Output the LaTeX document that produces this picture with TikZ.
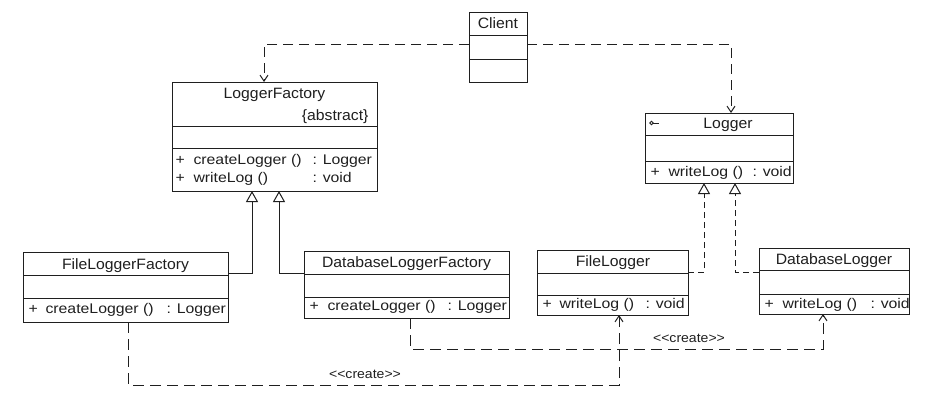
\documentclass[tikz,border=0pt]{standalone}
\usepackage{fontspec}
\setmainfont{Liberation Sans}
\newfontfamily\namefont[FakeStretch=1.05]{Liberation Sans}
\newfontfamily\opfont[FakeStretch=1.13]{Liberation Sans}
\newfontfamily\lblfont[FakeStretch=1.08]{Liberation Sans}
\usetikzlibrary{arrows.meta,fit,calc}
\tikzset{
  classbox/.style={draw, inner sep=0pt, outer sep=0pt},
  divider/.style={},
  cname/.style={font=\namefont\fontsize{15}{18}\selectfont, anchor=base, inner sep=0pt},
  opt/.style={font=\opfont\fontsize{14}{17}\selectfont, anchor=base west, inner sep=0pt},
  lbl/.style={font=\lblfont\fontsize{13}{15}\selectfont, inner sep=0pt},
  dep/.style={dash pattern=on 10pt off 6pt, -{Straight Barb[length=6pt,width=8pt]}},
  crt/.style={dash pattern=on 11pt off 6pt, -{Straight Barb[length=6pt,width=8pt]}},
  inh/.style={-{Triangle[open,length=11pt,width=12pt]}},
  realize/.style={dash pattern=on 6pt off 4pt, -{Triangle[open,length=11pt,width=12pt]}},
}
\newcommand\umlclass[7]{%
  \node[classbox, fit={(#2,#3) (#4,#5)}] (#1) {};
  \draw[divider] (#1.west |- 0,#6) -- (#1.east |- 0,#6);
  \draw[divider] (#1.west |- 0,#7) -- (#1.east |- 0,#7);
}
\begin{document}
\begin{tikzpicture}[x=1pt,y=-1pt,line width=1pt,color={black!88}]
\fill[white] (0,0) rectangle (951,402);
\useasboundingbox (0,0) rectangle (951,402);

% classes
\umlclass{client}{469}{12}{527}{82}{35}{59}
\umlclass{lf}{172}{82}{377}{191}{126}{148}
\umlclass{logger}{645}{113}{793}{183}{135}{161}
\umlclass{flf}{23}{252}{228}{322}{275}{298}
\umlclass{dlf}{304}{251}{509}{318}{274}{297}
\umlclass{fl}{537}{250}{688}{315}{273}{295}
\umlclass{dbl}{759}{248}{909}{314}{270}{294}

% names
\node[cname] (tclient) at (498,28.5) {Client};
\node[cname] (tlf) at (274.5,98) {LoggerFactory};
\node[cname, anchor=base east] (tabs) at (369,120) {\{abstract\}};
\node[cname] (tlogger) at (728,128) {Logger};
\node[cname] (tflf) at (125.5,269.5) {FileLoggerFactory};
\node[cname] (tdlf) at (406.5,267.5) {DatabaseLoggerFactory};
\node[cname] (tfl) at (613,266) {FileLogger};
\node[cname] (tdbl) at (834,264) {DatabaseLogger};

% logger icon
\draw[line width=0.8pt] (651.5,123) circle[radius=1.7pt];
\draw[line width=0.8pt] (653.2,123) -- (659,123);

% operations: LoggerFactory
\node[opt] (p1) at (175,164) {+};
\node[opt] (m1) at (193,164) {createLogger ()};
\node[opt] (r1) at (312,164) {: Logger};
\node[opt] (p2) at (175,182.5) {+};
\node[opt] (m2) at (193,182.5) {writeLog ()};
\node[opt] (r2) at (312,182.5) {: void};
% Logger
\node[opt] (p3) at (650,176) {+};
\node[opt] (m3) at (668,176) {writeLog ()};
\node[opt] (r3) at (752,176) {: void};
% FileLoggerFactory
\node[opt] (p4) at (28,313) {+};
\node[opt] (m4) at (45,313) {createLogger ()};
\node[opt] (r4) at (166,313) {: Logger};
% DatabaseLoggerFactory
\node[opt] (p5) at (309,310) {+};
\node[opt] (m5) at (327,310) {createLogger ()};
\node[opt] (r5) at (447,310) {: Logger};
% FileLogger
\node[opt] (p6) at (542,308.5) {+};
\node[opt] (m6) at (559,308.5) {writeLog ()};
\node[opt] (r6) at (645,308.5) {: void};
% DatabaseLogger
\node[opt] (p7) at (764,308) {+};
\node[opt] (m7) at (782,308) {writeLog ()};
\node[opt] (r7) at (870,308) {: void};

% dependencies from client
\draw[dep] (client.west |- 0,44) -| ($(lf.north)+(-10.5,0)$);
\draw[dep] (client.east |- 0,44) -| ($(logger.north)+(12,0)$);

% generalization
\draw[inh] (flf.east |- 0,273) -| ($(lf.south)+(-22.5,0)$);
\draw[inh] (dlf.west |- 0,273) -| ($(lf.south)+(4.5,0)$);

% realization
\draw[realize] (fl.east |- 0,272) -| ($(logger.south)+(-15,0)$);
\draw[realize] (dbl.west |- 0,272) -| ($(logger.south)+(16,0)$);

% create
\coordinate (k1) at (619,385);
\coordinate (k2) at (823,349);
\draw[crt] (flf.south -| 128,0) |- (k1) -- (fl.south -| k1);
\draw[crt] (dlf.south -| 410,0) |- (k2) -- (dbl.south -| k2);
\node[lbl] (c1) at (365,374) {<\kern0pt<create>\kern0pt>};
\node[lbl] (c2) at (689,338) {<\kern0pt<create>\kern0pt>};
\end{tikzpicture}
\end{document}
